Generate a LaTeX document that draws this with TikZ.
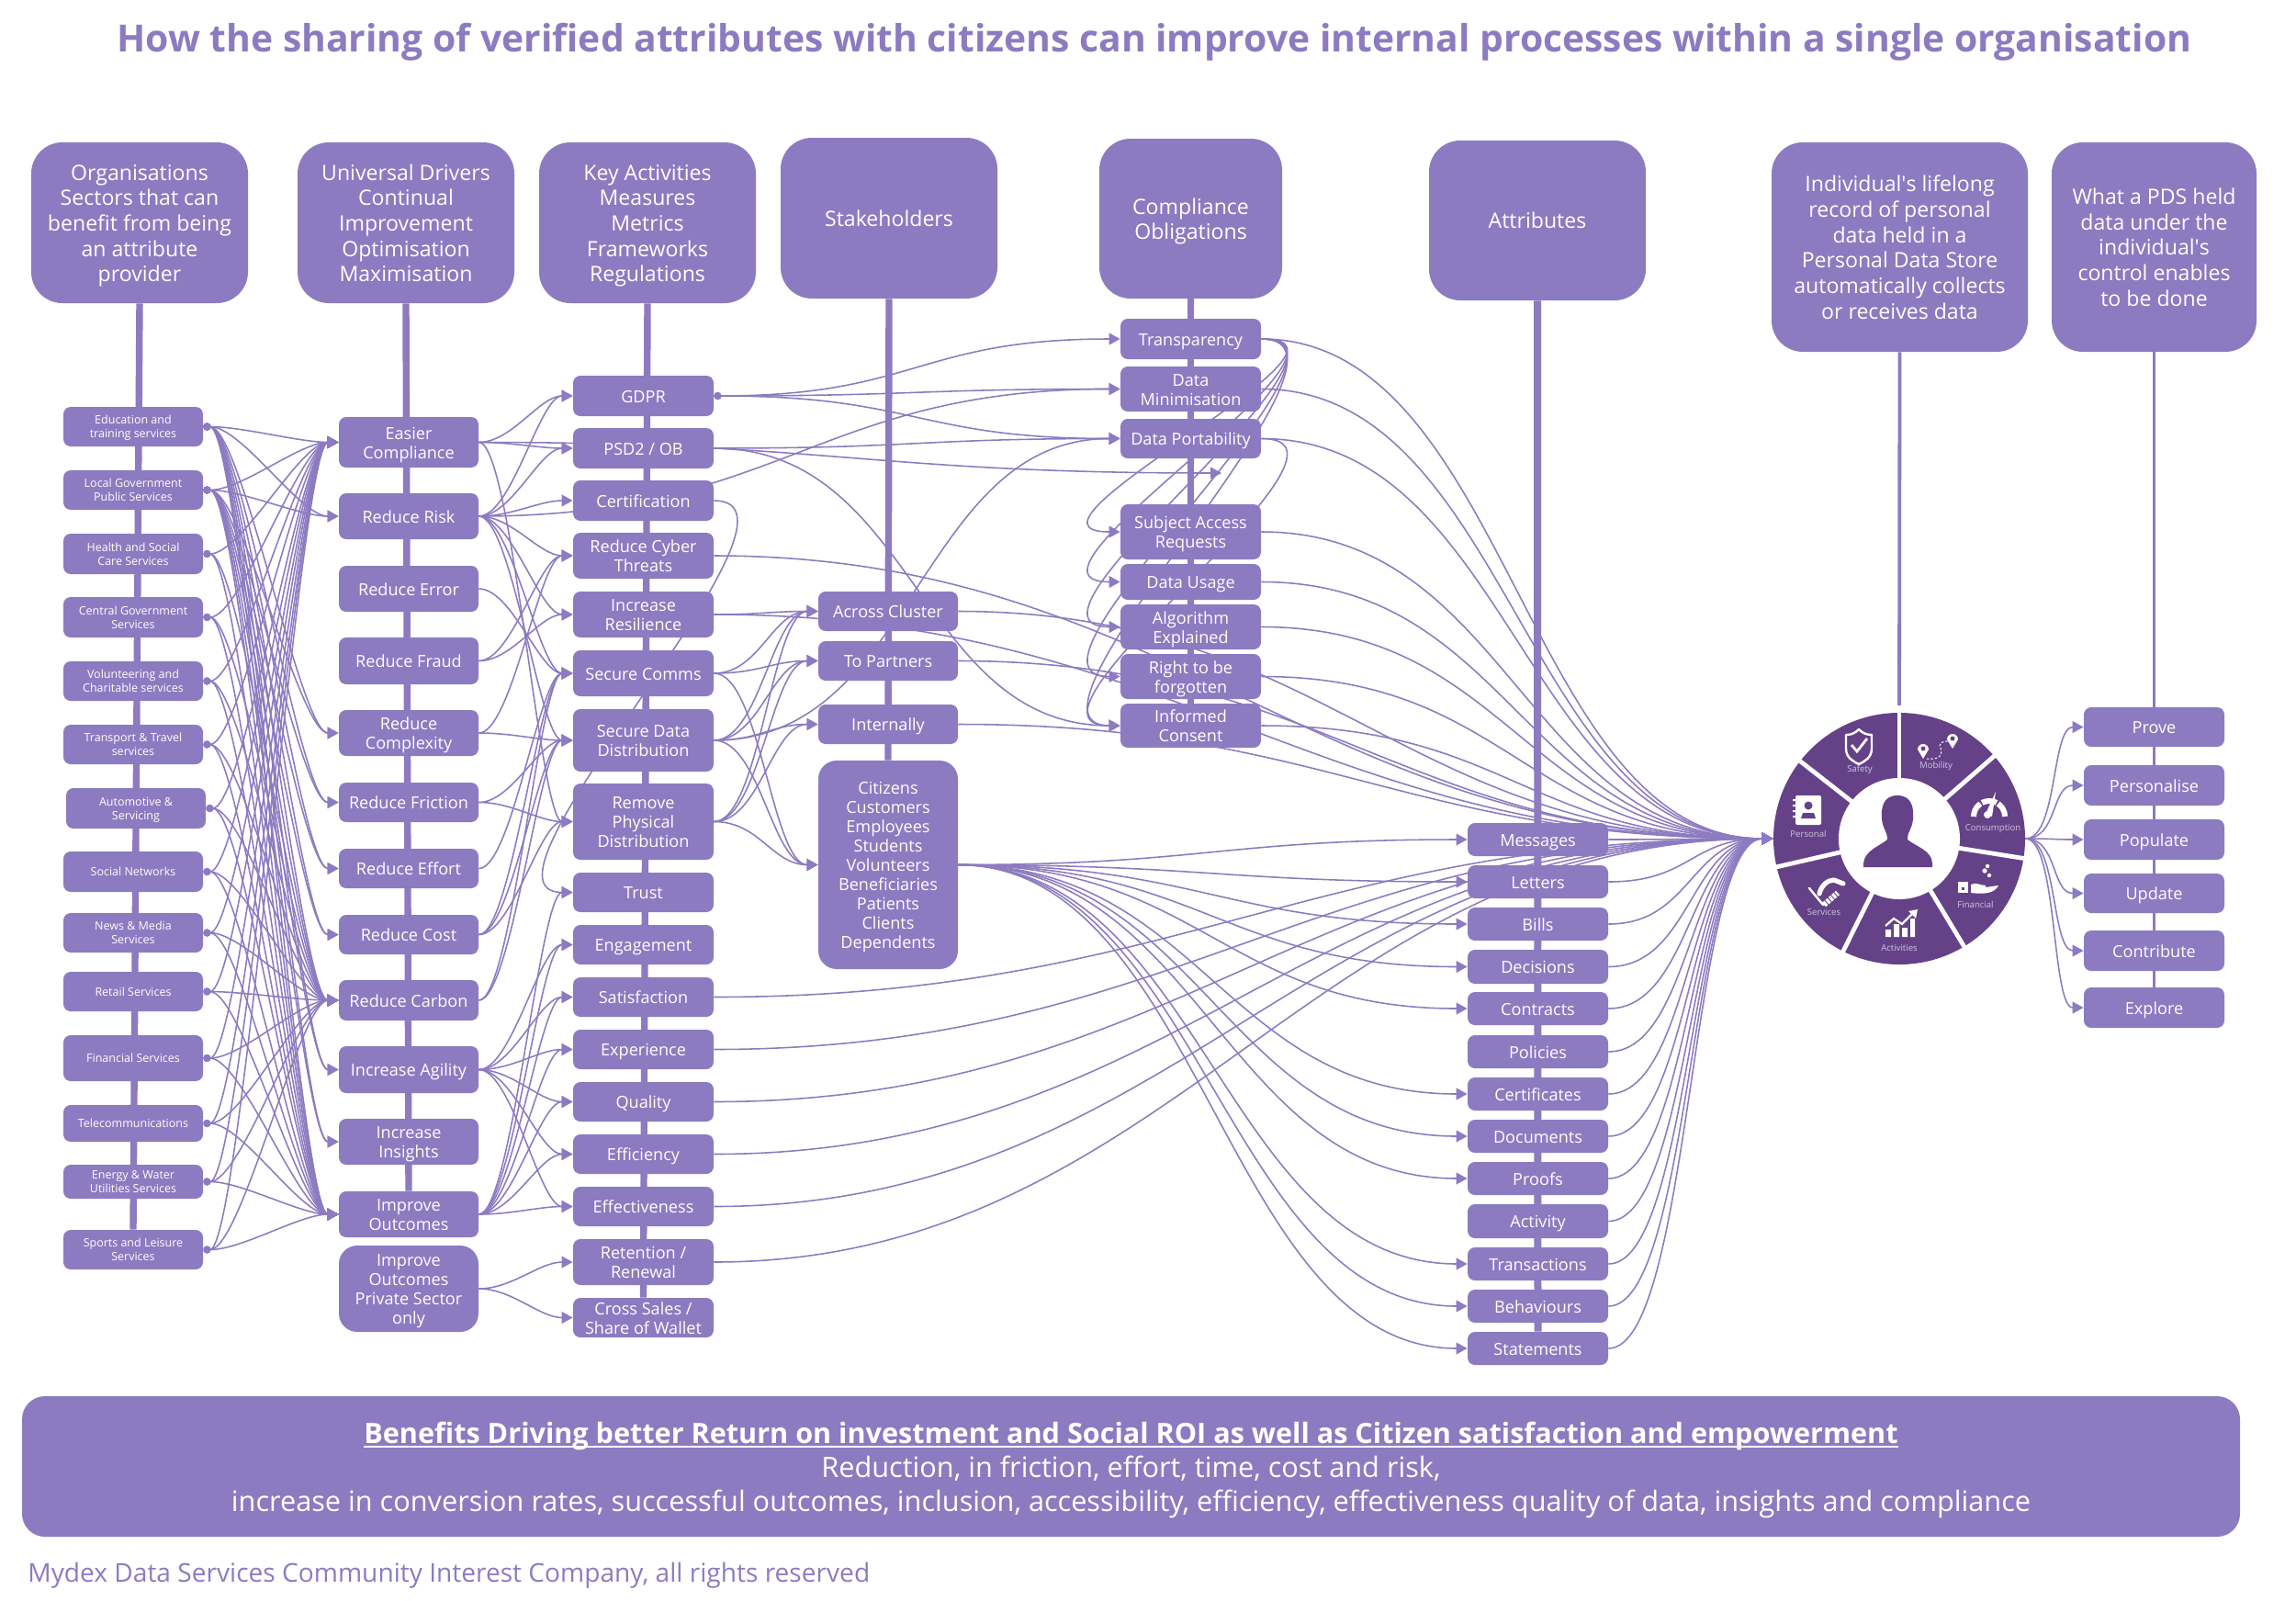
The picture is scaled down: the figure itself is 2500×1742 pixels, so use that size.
\documentclass[tikz,border=0pt]{standalone}
\usepackage{fontspec}
\setmainfont{Open Sans}
\newfontfamily\apofont{Open Sans}
\newcommand\apo{{\apofont '}}
\newcommand\ulbar[1]{\leavevmode\setbox0\hbox{#1}\rlap{\rule[-1.9pt]{\wd0}{1.05pt}}\box0\relax}
\usetikzlibrary{arrows.meta}
\definecolor{boxc}{RGB}{140,123,192}
\definecolor{wheelc}{RGB}{101,66,135}
\definecolor{faint}{RGB}{205,195,225}
\pgfdeclarelayer{links}
\pgfsetlayers{links,main}
\tikzset{
  box/.style={fill=boxc,text=white,rounded corners=4pt,align=center,inner xsep=0pt,inner ysep=-4pt,font=\fontsize{9.05}{10.5}\selectfont},
  smallbox/.style={box,font=\fontsize{6.25}{7.6}\selectfont},
  tallbox/.style={box,rounded corners=10pt},
  hdr/.style={box,rounded corners=17pt,font=\fontsize{11.55}{13.85}\selectfont},
  banner/.style={box,rounded corners=12.5pt,font=\fontsize{15.34}{18.3}\selectfont},
  link/.style={draw=boxc,line width=.78pt,-{Triangle[length=6pt,width=6.4pt]}},
  dotlink/.style={draw=boxc,line width=.78pt,{Circle[length=4pt]}-{Triangle[length=6pt,width=6.4pt]}},
  bar/.style={draw=boxc,line width=3.7pt},
  thinbar/.style={draw=boxc,line width=1.9pt},
  iconlabel/.style={text=faint,inner sep=0pt,font=\fontsize{4.8}{6}\selectfont},
}
\newcommand\bx[7]{\pgfmathsetmacro\bxw{(#5-#3)*0.5}\pgfmathsetmacro\bxh{(#6-#4)*0.5}%
  \node[#2,minimum width=\bxw pt,minimum height=\bxh pt] (#1) at ({(#3+#5)/2},{(#4+#6)/2}) {\rule{0pt}{1.069em}#7\rule[-.293em]{0pt}{.293em}};}
\newcommand\lk[4][link]{\draw[#1] (#2.east) .. controls +(#4,0) and +(-#4,0) .. (#3.west);}
\begin{document}
\begin{tikzpicture}[x=0.5pt,y=-0.5pt]
\useasboundingbox (0,0) rectangle (2500,1742);
% title, footer
\node[inner sep=0pt,text=boxc,font=\fontsize{20.43}{24}\selectfont\bfseries] (title) at (1257,46) {How the sharing of verified attributes with citizens can improve internal processes within a single organisation};
\node[inner sep=0pt,text=boxc,anchor=west,font=\fontsize{14.06}{18}\selectfont] (footer) at (30,1715) {Mydex Data Services Community Interest Company, all rights reserved};
\bx{ban}{banner}{24}{1520}{2439}{1673}{{\fontsize{15.3}{18.3}\selectfont\bfseries\ulbar{Benefits Driving better Return on investment and Social ROI as well as Citizen satisfaction and empowerment}}\\Reduction, in friction, effort, time, cost and risk,\\increase in conversion rates, successful outcomes, inclusion, accessibility, efficiency, effectiveness quality of data, insights and compliance}
% headers
\bx{hOrg}{hdr}{34}{155}{270}{330}{Organisations\\Sectors that can\\benefit from being\\an attribute\\provider}
\bx{hDrv}{hdr}{324}{155}{560}{330}{Universal Drivers\\Continual\\Improvement\\Optimisation\\Maximisation}
\bx{hKey}{hdr}{587}{155}{823}{330}{Key Activities\\Measures\\Metrics\\Frameworks\\Regulations}
\bx{hSta}{hdr}{850}{150}{1086}{325}{Stakeholders}
\bx{hCom}{hdr}{1197}{151}{1396}{325}{Compliance\\Obligations}
\bx{hAtt}{hdr}{1556}{153}{1792}{327}{Attributes}
\bx{hPds}{hdr}{1929}{155}{2208}{383}{Individual\apo s lifelong\\record of personal\\data held in a\\Personal Data Store\\automatically collects\\or receives data}
\bx{hWhat}{hdr}{2234}{155}{2457}{383}{What a PDS held\\data under the\\individual\apo s\\control enables\\to be done}
% column 1
\bx{edu}{smallbox}{69}{443}{221}{486}{Education and\\training services}
\bx{loc}{smallbox}{69}{512}{221}{555}{Local Government\\Public Services}
\bx{hea}{smallbox}{69}{581}{221}{625}{Health and Social\\Care Services}
\bx{cen}{smallbox}{69}{650}{221}{694}{Central Government\\Services}
\bx{vol}{smallbox}{69}{720}{221}{763}{Volunteering and\\Charitable services}
\bx{tra}{smallbox}{69}{789}{221}{832}{Transport \& Travel\\services}
\bx{aut}{smallbox}{72}{858}{224}{902}{Automotive \&\\Servicing}
\bx{soc}{smallbox}{69}{927}{221}{971}{Social Networks}
\bx{new}{smallbox}{69}{994}{221}{1037}{News \& Media\\Services}
\bx{ret}{smallbox}{69}{1058}{221}{1101}{Retail Services}
\bx{fin}{smallbox}{69}{1127}{221}{1177}{Financial Services}
\bx{tel}{smallbox}{69}{1203}{221}{1243}{Telecommunications}
\bx{ene}{smallbox}{69}{1268}{221}{1305}{Energy \& Water\\Utilities Services}
\bx{spo}{smallbox}{69}{1339}{221}{1382}{Sports and Leisure\\Services}
% column 2
\bx{eas}{box}{369}{454}{521}{509}{Easier\\Compliance}
\bx{ris}{box}{369}{537}{521}{587}{Reduce Risk}
\bx{err}{box}{369}{616}{521}{666}{Reduce Error}
\bx{fra}{box}{369}{694}{521}{745}{Reduce Fraud}
\bx{cpx}{box}{369}{773}{521}{823}{Reduce\\Complexity}
\bx{fri}{box}{369}{852}{521}{895}{Reduce Friction}
\bx{eff}{box}{369}{924}{521}{967}{Reduce Effort}
\bx{cos}{box}{369}{996}{521}{1039}{Reduce Cost}
\bx{car}{box}{369}{1067}{521}{1111}{Reduce Carbon}
\bx{agi}{box}{369}{1139}{521}{1190}{Increase Agility}
\bx{ins}{box}{369}{1218}{521}{1268}{Increase\\Insights}
\bx{out}{box}{369}{1297}{521}{1347}{Improve\\Outcomes}
\bx{pri}{tallbox}{369}{1356}{521}{1450}{Improve\\Outcomes\\Private Sector\\only}
% column 3
\bx{gdp}{box}{624}{409}{777}{453}{GDPR}
\bx{psd}{box}{624}{466}{777}{510}{PSD2 / OB}
\bx{cer}{box}{624}{523}{777}{567}{Certification}
\bx{cyb}{box}{624}{580}{777}{630}{Reduce Cyber\\Threats}
\bx{res}{box}{624}{644}{777}{694}{Increase\\Resilience}
\bx{com}{box}{624}{708}{777}{758}{Secure Comms}
\bx{sec}{box}{624}{772}{777}{840}{Secure Data\\Distribution}
\bx{rem}{box}{624}{853}{777}{936}{Remove\\Physical\\Distribution}
\bx{tru}{box}{624}{950}{777}{993}{Trust}
\bx{eng}{box}{624}{1007}{777}{1050}{Engagement}
\bx{sat}{box}{624}{1064}{777}{1107}{Satisfaction}
\bx{exp}{box}{624}{1121}{777}{1164}{Experience}
\bx{qua}{box}{624}{1178}{777}{1221}{Quality}
\bx{efy}{box}{624}{1235}{777}{1278}{Efficiency}
\bx{efn}{box}{624}{1292}{777}{1335}{Effectiveness}
\bx{rte}{box}{624}{1349}{777}{1399}{Retention /\\Renewal}
\bx{cro}{box}{624}{1413}{777}{1456}{Cross Sales /\\Share of Wallet}
% column 4
\bx{acr}{box}{891}{644}{1043}{687}{Across Cluster}
\bx{par}{box}{891}{698}{1043}{741}{To Partners}
\bx{int}{box}{891}{767}{1043}{810}{Internally}
\bx{cit}{tallbox}{891}{828}{1043}{1055}{Citizens\\Customers\\Employees\\Students\\Volunteers\\Beneficiaries\\Patients\\Clients\\Dependents}
% column 5
\bx{tsp}{box}{1220}{347}{1373}{391}{Transparency}
\bx{dmi}{box}{1220}{399}{1373}{448}{Data\\Minimisation}
\bx{dpo}{box}{1220}{456}{1373}{499}{Data Portability}
\bx{sar}{box}{1220}{549}{1373}{609}{Subject Access\\Requests}
\bx{dus}{box}{1220}{614}{1373}{653}{Data Usage}
\bx{alg}{box}{1220}{658}{1373}{707}{Algorithm\\Explained}
\bx{rig}{box}{1220}{712}{1373}{761}{Right to be\\forgotten}
\bx{inf}{box}{1220}{766}{1373}{814}{Informed\\Consent}
% column 6
\bx{msg}{box}{1598}{896}{1751}{932}{Messages}
\bx{let}{box}{1598}{942}{1751}{978}{Letters}
\bx{bil}{box}{1598}{988}{1751}{1024}{Bills}
\bx{dec}{box}{1598}{1034}{1751}{1071}{Decisions}
\bx{con}{box}{1598}{1080}{1751}{1116}{Contracts}
\bx{pol}{box}{1598}{1127}{1751}{1163}{Policies}
\bx{cef}{box}{1598}{1173}{1751}{1209}{Certificates}
\bx{doc}{box}{1598}{1219}{1751}{1255}{Documents}
\bx{pro}{box}{1598}{1265}{1751}{1301}{Proofs}
\bx{act}{box}{1598}{1311}{1751}{1348}{Activity}
\bx{trn}{box}{1598}{1358}{1751}{1394}{Transactions}
\bx{beh}{box}{1598}{1404}{1751}{1440}{Behaviours}
\bx{sta}{box}{1598}{1450}{1751}{1486}{Statements}
% right column
\bx{prv}{box}{2269}{770}{2422}{813}{Prove}
\bx{per}{box}{2269}{833}{2422}{877}{Personalise}
\bx{pop}{box}{2269}{892}{2422}{936}{Populate}
\bx{upd}{box}{2269}{951}{2422}{994}{Update}
\bx{ctr}{box}{2269}{1013}{2422}{1057}{Contribute}
\bx{exl}{box}{2269}{1075}{2422}{1119}{Explore}
% wheel
\node[circle,fill=wheelc,inner sep=0pt,minimum size=137pt] (wheel) at (2068,913) {};
\foreach \a in {90,41,-9,-59,-116.5,193,142}
  \draw[white,line width=2.4pt] (wheel.center) -- ++({145*cos(\a)},{-145*sin(\a)});
\node[circle,fill=white,inner sep=0pt,minimum size=66pt] (core) at (wheel.center) {};
% person
\fill[wheelc] (2066,866) .. controls (2082,866) and (2084,880) .. (2083,892) .. controls (2082,902) and (2076,908) .. (2077,914) .. controls (2085,921) and (2104,926) .. (2104,940) -- (2104,944) -- (2029,944) -- (2029,940) .. controls (2030,926) and (2047,921) .. (2055,914) .. controls (2056,908) and (2050,902) .. (2049,892) .. controls (2048,880) and (2050,866) .. (2066,866) -- cycle;
% icons
\draw[white,line width=1.2pt,line join=round] (2010,800) .. controls (2016,800) and (2020,798) .. (2024,794) .. controls (2028,798) and (2032,800) .. (2038,800) -- (2038,815) .. controls (2038,825) and (2030,829) .. (2024,832) .. controls (2018,829) and (2010,825) .. (2010,815) -- cycle;
\draw[white,line width=1.4pt] (2016,811) -- (2022,818) -- (2033,804);
\node[iconlabel] (lSafety) at (2025,838) {Safety};
\fill[white] (2094,826) -- (2088,816) arc[start angle=180,end angle=360,radius=6] -- cycle;
\fill[white] (2126,815) -- (2120,805) arc[start angle=180,end angle=360,radius=6] -- cycle;
\fill[wheelc] (2094,815) circle[radius=2.5] (2126,804) circle[radius=2.5];
\draw[white,line width=.5pt,dash pattern=on 1.2pt off 1pt] (2098,826) .. controls (2118,828) and (2114,816) .. (2112,812) .. controls (2112,808) and (2117,807) .. (2122,807);
\node[iconlabel] (lMob) at (2108,834) {Mobility};
\draw[white,line width=3pt,dash pattern=on 8.2pt off 1pt] (2149,889) arc[start angle=180,end angle=360,radius=17];
\fill[white] (2162,886) -- (2173,862) -- (2169,889) -- cycle;
\fill[white] (2164,887) circle[radius=4];
\node[iconlabel] (lCon) at (2170,902) {Consumption};
\fill[white] (2164,943) circle[radius=2.2] (2161,948) circle[radius=2.6] (2166,953) circle[radius=2.2];
\fill[white] (2132,960) rectangle (2143,972);
\fill[wheelc] (2136,966) rectangle (2138.5,969);
\fill[white] (2146,963) .. controls (2152,960) and (2156,964) .. (2162,964) -- (2162,966) -- (2176,964) .. controls (2172,972) and (2162,974) .. (2146,972) -- cycle;
\node[iconlabel] (lFin) at (2151,985) {Financial};
\fill[white] (2053,1012) rectangle (2059,1020) (2062,1006) rectangle (2068,1020) (2071,1010) rectangle (2077,1020) (2080,1000) rectangle (2085,1020);
\draw[white,line width=1.1pt] (2053,1008) -- (2062,1000) -- (2071,1006) -- (2083,994);
\fill[white] (2088,990) -- (2078,992) -- (2086,1000) -- cycle;
\node[iconlabel] (lAct) at (2068,1032) {Activities};
\draw[white,line width=1.2pt,line cap=round] (1970,967) -- (1985,985);
\draw[white,line width=2.6pt,line cap=round,line join=round] (1981,973) .. controls (1983,964) and (1990,958) .. (1997,958) -- (2007,962);
\draw[white,line width=3pt,dash pattern=on 1.6pt off .6pt] (1986,985) -- (2001,972);
\node[iconlabel] (lSer) at (1986,993) {Services};
\fill[white,rounded corners=1pt] (1955,866) rectangle (1983,898);
\fill[white] (1952,870) rectangle (1956,872) (1952,876) rectangle (1956,878) (1952,882) rectangle (1956,884) (1952,888) rectangle (1956,890);
\fill[wheelc] (1969,877) circle[radius=4.5] (1961,891) -- (1963,885) -- (1975,885) -- (1977,891) -- cycle;
\node[iconlabel] (lPer) at (1969,908) {Personal};
% links behind the boxes
\begin{pgfonlayer}{links}
\foreach \b in {eas,ris,cpx,fri,eff,cos,car,agi,ins,out} \foreach \a in {edu,loc} {\lk[dotlink]{\a}{\b}{42}}
\foreach \b in {eas,car,out} \foreach \a in {hea,cen,vol,tra,aut,soc,new,ret,fin,tel,ene,spo} {\lk[dotlink]{\a}{\b}{42}}
\foreach \a/\b in {eas/gdp,eas/psd,eas/rem,ris/gdp,ris/psd,ris/cer,ris/cyb,ris/res,ris/com,ris/sec,err/com,fra/cyb,fra/res,cpx/cyb,cpx/sec,fri/sec,fri/rem,eff/com,cos/com,cos/sec,cos/rem,car/com,car/sec,agi/eng,agi/sat,agi/exp,agi/qua,agi/efy,agi/efn,out/tru,out/eng,out/sat,out/exp,out/qua,out/efy,out/efn,pri/rte,pri/cro} {\lk{\a}{\b}{36}}
\foreach \b in {tsp,dmi,dpo} {\lk[dotlink]{gdp}{\b}{220}}
\coordinate (freeEnd) at (1330,515);
\lk{eas}{freeEnd}{380}
\lk{ris}{dmi}{330}
\lk{psd}{dpo}{220}
\lk{psd}{inf}{220}
\lk{sec}{dpo}{220}
\lk{cer}{tru}{130}
\foreach \a/\b in {com/acr,com/par,com/cit,sec/acr,sec/par,sec/int,sec/cit,rem/acr,rem/par,rem/int,rem/cit,res/acr} {\lk{\a}{\b}{50}}
\foreach \b in {sar,dus,alg,rig,inf} {\lk{tsp}{\b}{140}}
\lk{dpo}{inf}{140}
\foreach \a in {tsp,dmi,dpo,sar,dus,alg,rig,inf} {\lk{\a}{wheel}{270}}
\foreach \a in {res,cyb} {\lk{\a}{wheel}{500}}
\foreach \a in {acr,par,int} {\lk{\a}{wheel}{400}}
\foreach \a in {sat,exp,qua,efy,efn,rte} {\lk{\a}{wheel}{500}}
\foreach \b in {msg,let,bil,dec,con,cef,doc,pro,trn,beh,sta} {\lk{cit}{\b}{265}}
\foreach \a in {msg,let,bil,dec,con,pol,cef,doc,pro,act,trn,beh,sta} {\lk{\a}{wheel}{90}}
\foreach \b in {prv,per,pop,upd,ctr,exl} {\lk{wheel}{\b}{35}}
\draw[bar] (hOrg.south) -- (spo.north);
\draw[bar] (hDrv.south) -- (out.north);
\draw[bar] (hKey.south) -- (cro.north);
\draw[bar] (hSta.south) -- (cit.north);
\draw[bar] (hCom.south) -- (inf.north);
\draw[bar,line width=4pt] (hAtt.south) -- (sta.north);
\draw[thinbar] (hPds.south) -- (wheel.north);
\draw[thinbar] (hWhat.south) -- (exl.north);
\end{pgfonlayer}
\end{tikzpicture}
\end{document}
